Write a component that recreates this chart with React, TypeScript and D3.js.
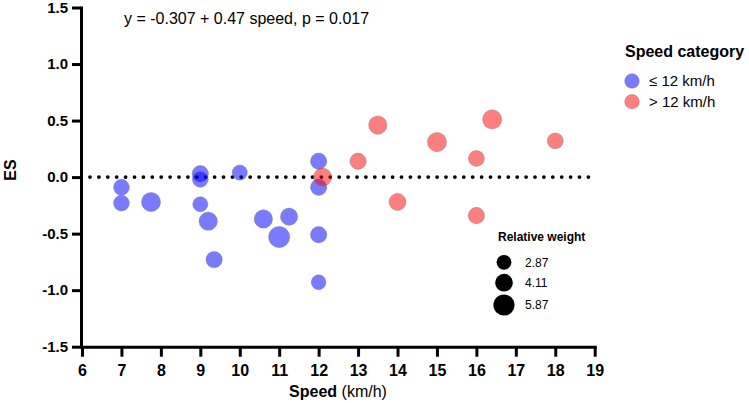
import * as d3 from "d3";
import { useEffect, useRef } from "react";

// ≤ 12 km/h studies
const slowSpeed = [7, 7, 7.75, 9, 9, 9, 9.2, 9.35, 10, 10.6, 11, 11.25, 12, 12, 12, 12];
const slowES = [-0.09, -0.23, -0.22, 0.03, -0.02, -0.24, -0.39, -0.73, 0.04, -0.37, -0.53, -0.35, 0.14, -0.09, -0.51, -0.93];
const slowWeight = [3.3, 3.3, 4.8, 3.5, 3.3, 3.0, 4.4, 3.5, 3.0, 4.4, 5.87, 3.9, 3.5, 3.5, 3.5, 2.87];

// > 12 km/h studies
const fastSpeed = [12.1, 13, 13.5, 14, 15, 16, 16, 16.4, 18];
const fastES = [0.0, 0.14, 0.46, -0.22, 0.31, 0.165, -0.34, 0.51, 0.32];
const fastWeight = [4.3, 3.5, 4.4, 3.8, 4.8, 3.3, 3.5, 4.8, 3.3];

const xTicks = d3.range(6, 20);
const yTicks = [-1.5, -1.0, -0.5, 0.0, 0.5, 1.0, 1.5];
const weightLegend = [2.87, 4.11, 5.87];
const categories = ["≤ 12 km/h", "> 12 km/h"];

const BLUE = "rgba(0,0,255,0.52)";
const RED = "rgba(255,0,0,0.5)";
const FONT = "'Liberation Sans', Arial, Helvetica, sans-serif";

export default function App() {
  const ref = useRef<SVGSVGElement>(null);

  useEffect(() => {
    if (!ref.current) return;
    const svg = d3.select(ref.current);
    svg.selectAll("*").remove();

    const x = d3.scaleLinear().domain([6, 19]).range([82, 594.7]);
    const y = d3.scaleLinear().domain([-1.5, 1.5]).range([346.7, 7.5]);
    const r = d3.scaleSqrt().domain([0, 5.87]).range([0, 10.6]);

    const slow = slowSpeed.map((s, i) => ({ s, es: slowES[i], w: slowWeight[i] }));
    const fast = fastSpeed.map((s, i) => ({ s, es: fastES[i], w: fastWeight[i] }));

    // zero reference line (dotted)
    svg
      .append("line")
      .attr("x1", x(6) + 8)
      .attr("x2", x(19) - 4)
      .attr("y1", y(0))
      .attr("y2", y(0))
      .attr("stroke", "#000")
      .attr("stroke-width", 3.8)
      .attr("stroke-linecap", "round")
      .attr("stroke-dasharray", "0 8.9");

    const drawPoints = (data: { s: number; es: number; w: number }[], fill: string) =>
      svg
        .append("g")
        .selectAll("circle")
        .data(data)
        .join("circle")
        .attr("cx", d => x(d.s))
        .attr("cy", d => y(d.es))
        .attr("r", d => r(d.w))
        .attr("fill", fill)
        .attr("stroke", "rgba(120,120,120,0.55)")
        .attr("stroke-width", 0.7);

    drawPoints(slow, BLUE);
    drawPoints(fast, RED);

    // X axis
    svg
      .append("g")
      .attr("transform", `translate(0,${y(-1.5)})`)
      .call(
        d3
          .axisBottom(x)
          .tickValues(xTicks)
          .tickSize(10)
          .tickSizeOuter(0)
          .tickPadding(8)
          .tickFormat(d => String(d)),
      )
      .call(g => g.select(".domain").attr("stroke-width", 3).attr("stroke-linecap", "square"))
      .call(g => g.selectAll("line").attr("stroke-width", 3))
      .call(g =>
        g.selectAll("text").attr("fill", "#000").attr("font-size", 16).attr("font-weight", 700).attr("font-family", FONT),
      );

    // Y axis
    svg
      .append("g")
      .attr("transform", `translate(${x(6) - 1},0)`)
      .call(
        d3
          .axisLeft(y)
          .tickValues(yTicks)
          .tickSize(9)
          .tickSizeOuter(0)
          .tickPadding(4)
          .tickFormat(d => (d as number).toFixed(1)),
      )
      .call(g => g.select(".domain").attr("stroke-width", 3).attr("stroke-linecap", "square"))
      .call(g => g.selectAll("line").attr("stroke-width", 3))
      .call(g =>
        g.selectAll("text").attr("fill", "#000").attr("font-size", 15).attr("font-weight", 700).attr("font-family", FONT),
      );

    // axis titles
    const xt = svg
      .append("text")
      .attr("x", 338)
      .attr("y", 397)
      .attr("text-anchor", "middle")
      .attr("font-family", FONT)
      .attr("font-size", 16);
    xt.append("tspan").attr("font-weight", 700).text("Speed");
    xt.append("tspan").text(" (km/h)");

    svg
      .append("text")
      .attr("transform", `translate(16,170) rotate(-90)`)
      .attr("text-anchor", "middle")
      .attr("font-family", FONT)
      .attr("font-size", 16)
      .attr("font-weight", 700)
      .text("ES");

    // regression note
    svg
      .append("text")
      .attr("x", 124)
      .attr("y", 24)
      .attr("font-family", FONT)
      .attr("font-size", 16)
      .text("y = -0.307 + 0.47 speed, p = 0.017");

    // category legend
    svg
      .append("text")
      .attr("x", 625)
      .attr("y", 57)
      .attr("font-family", FONT)
      .attr("font-size", 16)
      .attr("font-weight", 700)
      .text("Speed category");

    const cat = svg
      .append("g")
      .selectAll("g")
      .data(categories)
      .join("g")
      .attr("transform", (_, i) => `translate(632,${81 + i * 20.7})`);
    cat
      .append("circle")
      .attr("r", 7.3)
      .attr("fill", (_, i) => (i === 0 ? BLUE : RED))
      .attr("stroke", "rgba(120,120,120,0.55)")
      .attr("stroke-width", 0.7);
    cat
      .append("text")
      .attr("x", 17)
      .attr("dy", "0.36em")
      .attr("font-family", FONT)
      .attr("font-size", 15)
      .text(d => d);

    // weight legend
    svg
      .append("text")
      .attr("x", 498)
      .attr("y", 241)
      .attr("font-family", FONT)
      .attr("font-size", 12)
      .attr("font-weight", 700)
      .text("Relative weight");

    const wy = [262.3, 282.7, 305];
    const wl = svg
      .append("g")
      .selectAll("g")
      .data(weightLegend)
      .join("g")
      .attr("transform", (_, i) => `translate(504,${wy[i]})`);
    wl.append("circle").attr("r", d => r(d)).attr("fill", "#000");
    wl
      .append("text")
      .attr("x", 21)
      .attr("dy", "0.36em")
      .attr("font-family", FONT)
      .attr("font-size", 12)
      .text(d => d.toFixed(2));
  }, []);

  return (
    <div style={{ position: "absolute", left: 0, top: 0 }}>
      <svg ref={ref} width={749} height={403} style={{ display: "block", background: "#fff" }} />
    </div>
  );
}
